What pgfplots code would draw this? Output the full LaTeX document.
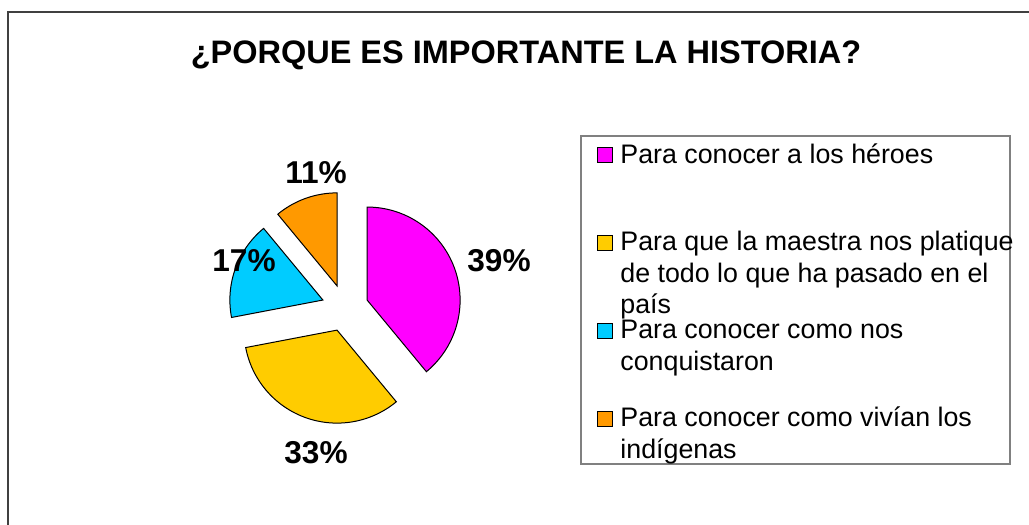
\documentclass[border=0pt]{standalone}
\usepackage{pgfplots}
\pgfplotsset{compat=1.18}
\usepackage{pgfplotstable}
\usepackage{fontspec}
\setmainfont{Liberation Sans}
\definecolor{cpink}{HTML}{FF00FF}
\definecolor{cyellow}{HTML}{FFCC00}
\definecolor{ccyan}{HTML}{00CCFF}
\definecolor{corange}{HTML}{FF9900}
\definecolor{frameC}{HTML}{404040}
\definecolor{legC}{HTML}{808080}

\pgfplotstableread{
value
39
33
17
11
}\piedata

\newcommand\piewedge[3]{%
  \pgfmathsetmacro\pmid{(#1+#2)/2}%
  \pgfmathsetmacro\ax{345+23.5*sin(\pmid)}%
  \pgfmathsetmacro\ay{308-23.5*cos(\pmid)}%
  \edef\temp{\noexpand\addplot[fill=#3, draw=black, line width=0.5bp, domain=#1:#2, samples=90, variable=\noexpand\t] ({\ax+93*sin(\noexpand\t)}, {\ay-93*cos(\noexpand\t)}) -- (axis cs:\ax,\ay) -- cycle;}%
  \temp
}

\begin{document}
\pgfplotstablegetelem{0}{value}\of\piedata\edef\vA{\pgfplotsretval}%
\pgfplotstablegetelem{1}{value}\of\piedata\edef\vB{\pgfplotsretval}%
\pgfplotstablegetelem{2}{value}\of\piedata\edef\vC{\pgfplotsretval}%
\pgfplotstablegetelem{3}{value}\of\piedata\edef\vD{\pgfplotsretval}%
\pgfmathsetmacro\sA{0}%
\pgfmathsetmacro\sB{\sA+3.6*\vA}%
\pgfmathsetmacro\sC{\sB+3.6*\vB}%
\pgfmathsetmacro\sD{\sC+3.6*\vC}%
\pgfmathsetmacro\sE{\sD+3.6*\vD}%
\begin{tikzpicture}
\begin{axis}[scale only axis, width=514.5bp, height=262.5bp,
  xmin=0, xmax=1029, ymin=0, ymax=525, y dir=reverse,
  hide axis, clip=false]
  % outer frame
  \draw[frameC, line width=1bp] (axis cs:8,525) -- (axis cs:8,12) -- (axis cs:1029,12);
  % title
  \node[anchor=base, font=\fontsize{16.25bp}{20bp}\selectfont\bfseries] at (axis cs:526,63) {¿PORQUE ES IMPORTANTE LA HISTORIA?};
  % pie
  \piewedge{\sA}{\sB}{cpink}
  \piewedge{\sB}{\sC}{cyellow}
  \piewedge{\sC}{\sD}{ccyan}
  \piewedge{\sD}{\sE}{corange}
  % data labels
  \node[anchor=base, font=\fontsize{15.8bp}{18bp}\selectfont\bfseries] at (axis cs:499,271) {\vA\%};
  \node[anchor=base, font=\fontsize{15.8bp}{18bp}\selectfont\bfseries] at (axis cs:316,463) {\vB\%};
  \node[anchor=base, font=\fontsize{15.8bp}{18bp}\selectfont\bfseries] at (axis cs:244,271) {\vC\%};
  \node[anchor=base, font=\fontsize{15.8bp}{18bp}\selectfont\bfseries] at (axis cs:316,183) {\vD\%};
  % legend
  \draw[legC, line width=1bp, fill=white] (axis cs:581,136) rectangle (axis cs:1010,464);
  \addplot[only marks, mark=square*, mark size=3.75bp, mark options={fill=cpink, draw=black, line width=0.5bp}] coordinates {(605,155)};
  \addplot[only marks, mark=square*, mark size=3.75bp, mark options={fill=cyellow, draw=black, line width=0.5bp}] coordinates {(605,243)};
  \addplot[only marks, mark=square*, mark size=3.75bp, mark options={fill=ccyan, draw=black, line width=0.5bp}] coordinates {(605,331)};
  \addplot[only marks, mark=square*, mark size=3.75bp, mark options={fill=corange, draw=black, line width=0.5bp}] coordinates {(605,419)};
  \begin{scope}[every node/.style={anchor=base west, inner sep=0pt, font=\fontsize{13.4bp}{16bp}\selectfont}]
  \node at (axis cs:620,163) {Para conocer a los héroes};
  \node at (axis cs:620,250) {Para que la maestra nos platique};
  \node at (axis cs:620,282) {de todo lo que ha pasado en el};
  \node at (axis cs:620,313) {país};
  \node at (axis cs:620,338) {Para conocer como nos};
  \node at (axis cs:620,370) {conquistaron};
  \node at (axis cs:620,426) {Para conocer como vivían los};
  \node at (axis cs:620,458) {indígenas};
  \end{scope}
\end{axis}
\pgfresetboundingbox
\path[use as bounding box] (current axis.south west) rectangle (current axis.north east);
\end{tikzpicture}
\end{document}
